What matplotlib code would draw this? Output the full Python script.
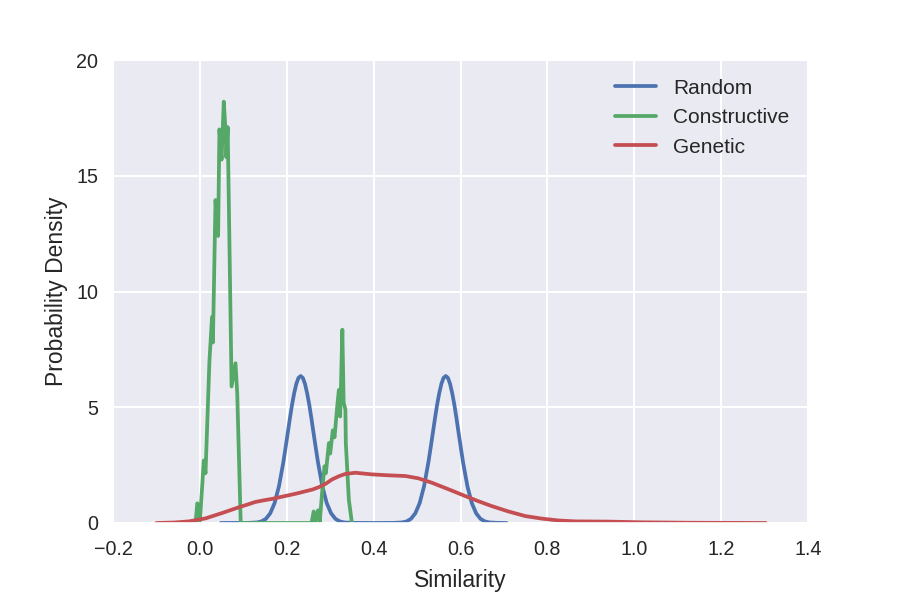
import matplotlib
matplotlib.use("Agg")
import matplotlib.pyplot as plt
import seaborn as sns

# Curves (similarity, probability density)
random_x = [0.048, 0.112, 0.132, 0.142, 0.152, 0.162, 0.172, 0.182, 0.192, 0.197, 0.202,
            0.207, 0.212, 0.217, 0.222, 0.227, 0.232, 0.237, 0.242, 0.247, 0.252, 0.257,
            0.262, 0.267, 0.272, 0.282, 0.292, 0.302, 0.312, 0.322, 0.332, 0.352, 0.399,
            0.446, 0.466, 0.476, 0.486, 0.496, 0.506, 0.516, 0.526, 0.531, 0.536, 0.541,
            0.546, 0.551, 0.556, 0.561, 0.566, 0.571, 0.576, 0.581, 0.586, 0.591, 0.596,
            0.601, 0.606, 0.616, 0.626, 0.636, 0.646, 0.656, 0.666, 0.686, 0.706]
random_y = [0.0, 0.005, 0.025, 0.07, 0.18, 0.42, 0.86, 1.58, 2.61, 3.22, 3.85,
            4.49, 5.09, 5.6, 6.01, 6.27, 6.35, 6.27, 6.01, 5.6, 5.09, 4.49,
            3.85, 3.22, 2.61, 1.58, 0.86, 0.42, 0.18, 0.07, 0.025, 0.005, 0.0,
            0.005, 0.025, 0.07, 0.18, 0.42, 0.86, 1.58, 2.61, 3.22, 3.85, 4.49,
            5.09, 5.6, 6.01, 6.27, 6.35, 6.27, 6.01, 5.6, 5.09, 4.49, 3.85,
            3.22, 2.61, 1.58, 0.86, 0.42, 0.18, 0.07, 0.025, 0.005, 0.0]

constructive_x = [-0.010, -0.006, 0.000, 0.005, 0.009, 0.013, 0.022, 0.028, 0.030, 0.036,
                  0.042, 0.045, 0.050, 0.055, 0.059, 0.061, 0.064, 0.067, 0.073, 0.082,
                  0.086, 0.094, 0.150, 0.200, 0.257, 0.262, 0.266, 0.272, 0.276, 0.283,
                  0.287, 0.290, 0.297, 0.300, 0.306, 0.310, 0.316, 0.320, 0.323, 0.328,
                  0.331, 0.335, 0.336, 0.343, 0.350]
constructive_y = [0.0, 0.85, 0.1, 1.5, 2.7, 2.15, 7.0, 8.9, 7.8, 13.95,
                  12.4, 17.0, 15.7, 18.2, 17.0, 15.8, 17.1, 13.4, 5.9, 6.9,
                  5.6, 0.0, 0.0, 0.0, 0.0, 0.5, 0.05, 0.55, 0.05, 1.7,
                  2.45, 2.15, 3.45, 3.0, 4.0, 3.7, 5.0, 5.75, 4.6, 8.35,
                  5.2, 4.9, 3.45, 1.0, 0.0]

genetic_x = [-0.10, -0.06, -0.025, 0.013, 0.051, 0.09, 0.11, 0.128, 0.147, 0.166, 0.185,
             0.205, 0.224, 0.243, 0.26, 0.274, 0.29, 0.304, 0.32, 0.335, 0.358, 0.38,
             0.396, 0.434, 0.473, 0.503, 0.534, 0.58, 0.61, 0.64, 0.672, 0.71, 0.749,
             0.787, 0.825, 0.864, 0.94, 1.017, 1.13, 1.22, 1.303]
genetic_y = [0.0, 0.02, 0.07, 0.2, 0.43, 0.68, 0.8, 0.91, 0.98, 1.04, 1.12,
             1.2, 1.28, 1.37, 1.45, 1.55, 1.7, 1.88, 2.02, 2.12, 2.17, 2.13,
             2.1, 2.06, 2.03, 1.93, 1.74, 1.4, 1.17, 0.95, 0.73, 0.5, 0.3,
             0.19, 0.11, 0.07, 0.06, 0.03, 0.01, 0.005, 0.0]

x_ticks = [-0.2, 0.0, 0.2, 0.4, 0.6, 0.8, 1.0, 1.2, 1.4]
y_ticks = [0, 5, 10, 15, 20]

sns.set_style("darkgrid")
plt.rcParams['font.family'] = ['Liberation Sans', 'DejaVu Sans']

fig = plt.figure(figsize=(6, 4), dpi=150)
ax = fig.add_axes([113 / 900, 77 / 600, 695 / 900, 463 / 600])

ax.plot(random_x, random_y, color='#4C72B0', lw=1.8, label='Random')
ax.plot(constructive_x, constructive_y, color='#55A868', lw=1.8, label='Constructive')
ax.plot(genetic_x, genetic_y, color='#C44E52', lw=1.8, label='Genetic')

ax.set_xlim(-0.2, 1.4)
ax.set_ylim(0, 20)
ax.set_xticks(x_ticks)
ax.set_yticks(y_ticks)
ax.tick_params(axis='both', labelsize=9.5, pad=7, length=0, colors='#262626')
ax.tick_params(axis='x', pad=8)
ax.set_xlabel('Similarity', fontsize=11, color='#262626', labelpad=5)
ax.set_ylabel('Probability Density', fontsize=11, color='#262626')
ax.grid(True, color='white', lw=1)

ax.legend(loc='upper right', fontsize=10, frameon=False)

fig.savefig('out.png', dpi=150)
